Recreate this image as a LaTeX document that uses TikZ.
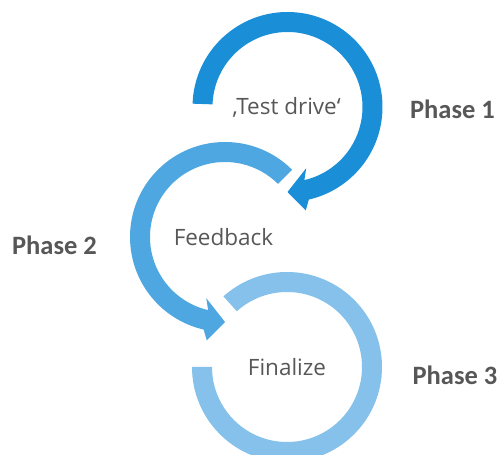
\documentclass[tikz,border=0pt]{standalone}
\usepackage{fontspec}
\setmainfont{Open Sans}
\newfontfamily\phasefont{Carlito}
\usetikzlibrary{calc}
\definecolor{cOne}{HTML}{1B8ED8}
\definecolor{cTwo}{HTML}{4EA7E0}
\definecolor{cThree}{HTML}{85C1EA}
\definecolor{txt}{HTML}{575757}
\tikzset{
  inner/.style={text=txt,font=\fontsize{22.5}{25}\selectfont,inner sep=0pt,anchor=base},
  phase/.style={text=txt,font=\phasefont\bfseries\fontsize{26.5}{30}\selectfont,inner sep=0pt,anchor=base},
}
\begin{document}
\begin{tikzpicture}[x=1pt,y=1pt]
\useasboundingbox (0,0) rectangle (499,455);
\clip (0,0) rectangle (499,455);
\coordinate (c1) at (287.5,348);
\coordinate (c2) at (225,218);
\coordinate (c3) at (287,88);
% circle 3 (no arrow)
\fill[cThree] ($(c3)+(180:95)$) arc[start angle=180,end angle=492,radius=95]
  -- ($(c3)+(132:75)$) arc[start angle=492,end angle=180,radius=75] -- cycle;
% circle 2 (counterclockwise)
\fill[cTwo] ($(c2)+(45:95)$) arc[start angle=45,end angle=257,radius=95]
  -- ($(c2)+(260:105)$) -- ($(c2)+(270:85)$) -- ($(c2)+(253:64)$)
  -- ($(c2)+(257:75)$) arc[start angle=257,end angle=45,radius=75] -- cycle;
% circle 1 (clockwise)
\fill[cOne] ($(c1)+(178:95)$) arc[start angle=178,end angle=-77,radius=95]
  -- ($(c1)+(-80:105)$) -- ($(c1)+(-90:85)$) -- ($(c1)+(-73:64)$)
  -- ($(c1)+(-77:75)$) arc[start angle=-77,end angle=178,radius=75] -- cycle;
% labels
\node[inner] (t1) at (286.5,340) {‚Test drive‘};
\node[inner] (t2) at (223.5,209) {Feedback};
\node[inner] (t3) at (287,79) {Finalize};
\node[phase] (p1) at (452.5,336) {Phase 1};
\node[phase] (p2) at (54.5,200) {Phase 2};
\node[phase] (p3) at (455,70) {Phase 3};
\end{tikzpicture}
\end{document}
